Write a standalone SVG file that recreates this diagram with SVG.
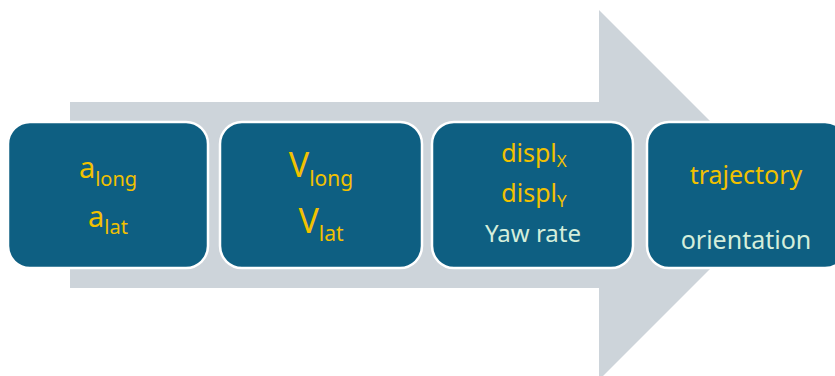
<svg xmlns="http://www.w3.org/2000/svg" width="835" height="376" viewBox="0 0 835 376">
<style>
.box{fill:#0E5F82;stroke:#FFFFFF;stroke-width:2.5}
text{font-family:"Noto Sans","Liberation Sans",sans-serif;text-anchor:middle}
.y{fill:#F2C100}
.g{fill:#D4EEDB}
</style>
<rect width="835" height="376" fill="#FFFFFF"/>
<g id="arrow">
<polygon points="70,102 599,102 599,10 784,195 599,380 599,288 70,288" fill="#CDD4DA"/>
</g>
<g id="node1">
<rect class="box" x="8" y="122" width="200" height="146" rx="22"/>
<text class="y" x="108" y="178" font-size="29">a<tspan font-size="20" dy="8">long</tspan></text>
<text class="y" x="108" y="227" font-size="29">a<tspan font-size="20" dy="7">lat</tspan></text>
</g>
<g id="node2">
<rect class="box" x="220" y="122" width="202" height="146" rx="22"/>
<text class="y" x="321" y="177" font-size="34">V<tspan font-size="21" dy="9">long</tspan></text>
<text class="y" x="321" y="233" font-size="34">V<tspan font-size="21" dy="8">lat</tspan></text>
</g>
<g id="node3">
<rect class="box" x="432" y="122" width="201" height="146" rx="22"/>
<text class="y" x="534" y="162" font-size="25">displ<tspan font-size="17" dy="5">X</tspan></text>
<text class="y" x="534" y="202" font-size="25">displ<tspan font-size="17" dy="5">Y</tspan></text>
<text class="g" x="533" y="242" font-size="24">Yaw rate</text>
</g>
<g id="node4">
<rect class="box" x="647" y="122" width="200" height="146" rx="22"/>
<text class="y" x="746" y="184" font-size="25">trajectory</text>
<text class="g" x="746" y="249" font-size="25">orientation</text>
</g>
<g id="connectors"></g>
</svg>
